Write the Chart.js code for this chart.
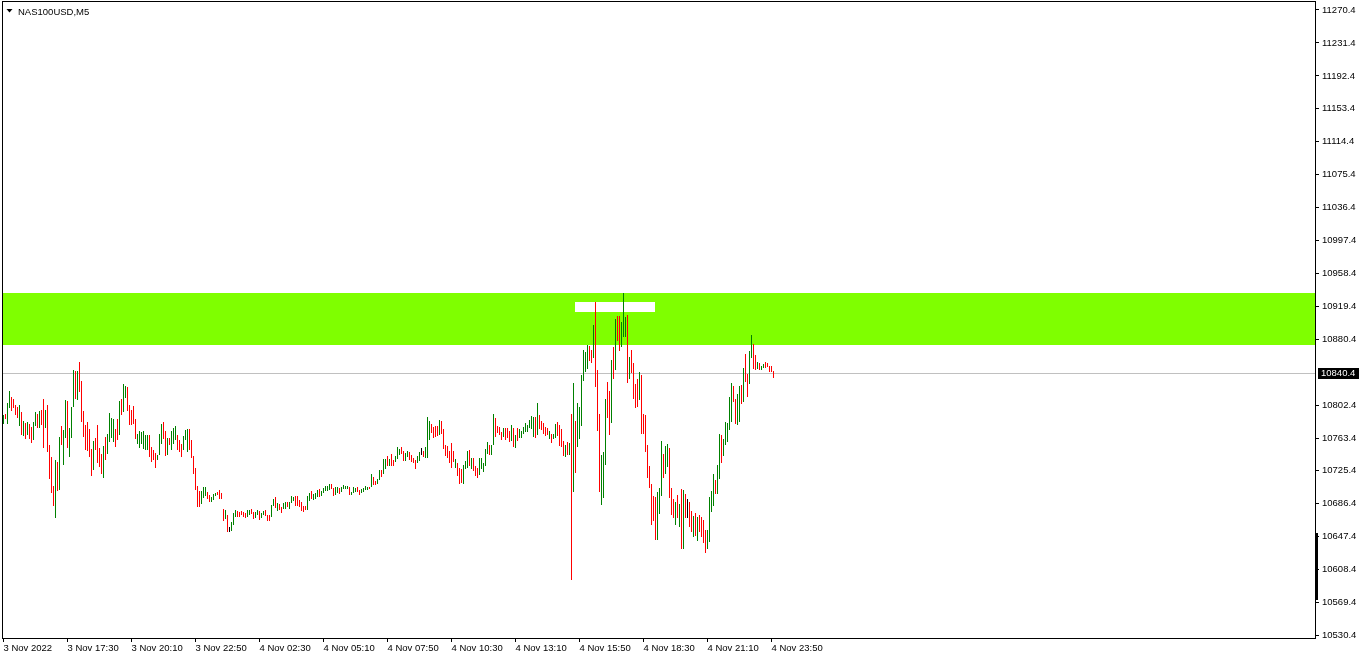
<!DOCTYPE html>
<html><head><meta charset="utf-8">
<script src="https://cdn.jsdelivr.net/npm/chart.js@4.4.0/dist/chart.umd.min.js"></script>
<style>html,body{margin:0;padding:0;background:#fff;}canvas{display:block;}</style>
</head><body>
<canvas id="c" width="1362" height="660"></canvas>
<script>
const symbolTitle = "NAS100USD,M5";
const tickLabels = ["3 Nov 2022","3 Nov 17:30","3 Nov 20:10","3 Nov 22:50","4 Nov 02:30","4 Nov 05:10","4 Nov 07:50","4 Nov 10:30","4 Nov 13:10","4 Nov 15:50","4 Nov 18:30","4 Nov 21:10","4 Nov 23:50"];
const barsPerTick = 32;
const priceTicks = [11270.4,11231.4,11192.4,11153.4,11114.4,11075.4,11036.4,10997.4,10958.4,10919.4,10880.4,10802.4,10763.4,10725.4,10686.4,10647.4,10608.4,10569.4,10530.4];
const currentPrice = 10840.4;
const zoneTop = 10935.3, zoneBottom = 10873.8;
const markTop = 10924.6, markBottom = 10912.8, markFromBar = 286, markToBar = 326;
const axisMarker = [10571.9, 10651.2];
const highs = [
10790.9,10792.1,10805.0,10819.3,10812.2,10809.8,10802.7,10800.3,10802.7,10794.4,
10783.8,10781.4,10782.6,10780.3,10776.7,10782.6,10794.4,10792.1,10795.6,10796.8,
10809.8,10796.8,10802.7,10755.4,10741.1,10706.8,10737.6,10735.2,10764.8,10777.9,
10773.1,10808.6,10807.4,10775.5,10800.3,10844.2,10843.0,10843.0,10853.6,10831.1,
10795.6,10779.1,10782.6,10774.3,10750.6,10760.1,10763.7,10779.1,10751.8,10744.7,
10754.2,10764.8,10768.4,10793.2,10787.4,10786.2,10774.3,10786.2,10807.4,10809.8,
10827.6,10825.2,10824.0,10802.7,10796.8,10801.5,10786.2,10768.4,10771.9,10770.7,
10771.9,10767.2,10767.2,10767.2,10753.0,10749.4,10745.9,10743.5,10768.4,10780.3,
10782.6,10771.9,10763.7,10763.7,10771.9,10775.5,10777.9,10767.2,10761.3,10756.6,
10766.0,10773.1,10774.3,10774.3,10761.3,10742.3,10728.1,10706.8,10700.9,10700.9,
10705.6,10705.6,10699.7,10696.1,10693.8,10697.3,10698.5,10699.7,10702.1,10698.5,
10679.5,10678.4,10672.5,10658.3,10664.2,10674.8,10678.4,10677.2,10676.0,10677.2,
10676.0,10674.8,10678.4,10678.4,10679.5,10676.0,10676.0,10678.4,10677.2,10674.8,
10677.2,10678.4,10672.5,10672.5,10684.3,10691.4,10693.8,10686.6,10685.5,10681.9,
10686.6,10687.8,10687.8,10687.8,10695.0,10693.8,10695.0,10695.0,10690.2,10687.8,
10683.1,10683.1,10695.0,10698.5,10700.9,10697.3,10698.5,10702.1,10703.3,10700.9,
10704.5,10706.8,10706.8,10709.2,10709.2,10704.5,10705.6,10705.6,10704.5,10705.6,
10708.0,10706.8,10706.8,10705.6,10699.7,10705.6,10704.5,10705.6,10702.1,10703.3,
10704.5,10706.8,10705.6,10705.6,10721.0,10717.5,10712.7,10715.1,10725.8,10725.8,
10738.8,10738.8,10742.3,10738.8,10744.7,10737.6,10742.3,10753.0,10750.6,10753.0,
10748.2,10745.9,10748.2,10747.0,10743.5,10739.9,10737.6,10742.3,10747.0,10751.8,
10748.2,10753.0,10788.5,10783.8,10780.3,10776.7,10777.9,10777.9,10785.0,10783.8,
10774.3,10755.4,10754.2,10748.2,10757.7,10748.2,10738.8,10734.0,10728.1,10727.0,
10731.7,10736.4,10748.2,10749.4,10739.9,10739.9,10730.5,10728.1,10739.9,10739.9,
10734.0,10750.6,10758.9,10755.4,10755.4,10792.1,10787.4,10777.9,10776.7,10770.7,
10775.5,10775.5,10775.5,10771.9,10779.1,10775.5,10767.2,10775.5,10774.3,10771.9,
10776.7,10781.4,10779.1,10785.0,10789.7,10788.5,10788.5,10805.0,10790.9,10783.8,
10781.4,10776.7,10775.5,10771.9,10768.4,10768.4,10780.3,10782.6,10779.1,10774.3,
10760.1,10755.4,10758.9,10757.7,10792.1,10828.7,10783.8,10805.0,10800.3,10838.2,
10867.8,10865.4,10873.8,10872.6,10867.8,10897.5,10924.6,10844.2,10792.1,10743.5,
10747.0,10809.8,10829.9,10819.3,10856.0,10871.4,10904.6,10908.1,10908.1,10901.0,
10935.3,10906.9,10909.3,10859.5,10867.8,10852.4,10827.6,10833.5,10841.8,10838.2,
10792.1,10790.9,10755.4,10730.5,10709.2,10695.0,10693.8,10699.7,10704.5,10760.1,
10744.7,10754.2,10756.6,10751.8,10704.5,10691.4,10687.8,10696.1,10685.5,10703.3,
10702.1,10697.3,10691.4,10687.8,10677.2,10671.3,10674.8,10670.1,10672.5,10670.1,
10666.6,10654.7,10654.7,10693.8,10700.9,10721.0,10713.9,10731.7,10768.4,10767.2,
10762.5,10782.6,10781.4,10812.2,10828.7,10825.2,10809.8,10815.7,10825.2,10826.4,
10846.5,10863.1,10839.4,10866.6,10885.6,10874.9,10861.9,10853.6,10852.4,10848.9,
10851.3,10853.6,10852.4,10848.9,10848.9,10843.0];
const lows = [
10780.3,10786.2,10780.3,10799.1,10795.6,10799.1,10790.9,10787.4,10777.9,10767.2,
10766.0,10762.5,10767.2,10762.5,10757.7,10761.3,10777.9,10775.5,10775.5,10779.1,
10751.8,10775.5,10747.0,10715.1,10698.6,10683.1,10668.9,10700.9,10702.1,10755.4,
10731.7,10763.7,10751.8,10741.1,10763.7,10800.3,10809.8,10808.6,10818.1,10782.6,
10764.8,10749.4,10748.2,10741.1,10718.7,10725.8,10749.4,10734.0,10729.3,10721.0,
10716.3,10737.6,10744.7,10758.9,10763.7,10758.9,10753.0,10761.3,10767.2,10790.9,
10794.4,10811.0,10795.6,10779.1,10779.1,10780.3,10762.5,10756.6,10751.8,10756.6,
10750.6,10749.4,10749.4,10741.1,10735.2,10737.6,10728.1,10737.6,10743.5,10756.6,
10762.5,10742.3,10743.5,10755.4,10749.4,10756.6,10761.3,10749.4,10747.0,10741.1,
10749.4,10761.3,10747.0,10749.4,10739.9,10721.0,10702.1,10681.9,10681.9,10685.5,
10692.6,10695.0,10691.4,10687.9,10687.9,10690.2,10695.0,10696.1,10691.4,10691.4,
10665.4,10667.8,10652.3,10652.3,10653.5,10660.7,10670.1,10670.1,10670.1,10672.5,
10670.1,10668.9,10670.1,10672.5,10673.7,10667.8,10668.9,10672.5,10666.6,10668.9,
10672.5,10671.3,10665.4,10665.4,10670.1,10683.1,10680.7,10677.2,10678.4,10674.8,
10679.5,10679.5,10681.9,10679.5,10686.6,10689.0,10683.1,10683.1,10681.9,10677.2,
10676.0,10678.4,10678.4,10689.0,10691.4,10690.2,10691.4,10693.8,10693.8,10695.0,
10698.5,10700.9,10700.9,10702.1,10703.3,10695.0,10696.1,10698.5,10697.3,10699.7,
10703.3,10703.3,10703.3,10696.1,10696.1,10698.5,10699.7,10699.7,10696.1,10698.5,
10699.7,10702.1,10702.1,10703.3,10705.6,10708.0,10708.0,10709.2,10713.9,10717.5,
10721.0,10727.0,10730.5,10730.5,10730.5,10730.5,10735.2,10738.8,10743.5,10744.7,
10736.4,10736.4,10741.1,10737.6,10735.2,10734.0,10727.0,10734.0,10736.4,10743.5,
10741.1,10739.9,10739.9,10761.3,10769.6,10763.7,10764.8,10766.0,10767.2,10768.4,
10750.6,10742.3,10739.9,10734.0,10728.1,10735.2,10728.1,10718.7,10709.2,10710.4,
10709.2,10727.0,10728.1,10730.5,10727.0,10724.6,10718.7,10716.3,10719.8,10727.0,
10723.4,10730.5,10744.7,10743.5,10743.5,10755.4,10764.8,10769.6,10767.2,10761.3,
10764.8,10761.3,10763.7,10758.9,10760.1,10753.0,10751.8,10760.1,10763.7,10763.7,
10768.4,10770.7,10770.7,10775.5,10774.3,10764.8,10763.7,10767.2,10774.3,10773.1,
10768.4,10766.0,10767.2,10762.5,10757.7,10762.5,10763.7,10766.0,10754.2,10753.0,
10742.3,10741.1,10743.5,10743.5,10595.5,10699.7,10722.2,10753.0,10762.5,10777.9,
10831.1,10841.8,10845.4,10854.8,10852.4,10858.3,10824.0,10771.9,10699.7,10684.3,
10692.6,10731.7,10787.4,10767.2,10781.4,10833.5,10844.2,10878.5,10866.6,10871.4,
10883.2,10883.2,10828.7,10833.5,10840.6,10809.8,10799.1,10800.3,10808.6,10768.4,
10768.4,10747.0,10716.3,10704.5,10660.7,10665.4,10642.9,10642.9,10673.7,10695.0,
10716.3,10721.0,10729.3,10692.6,10672.5,10668.9,10660.7,10668.9,10658.3,10632.2,
10632.2,10668.9,10668.9,10658.3,10652.3,10646.4,10647.6,10641.7,10652.3,10646.4,
10639.3,10627.4,10632.2,10640.5,10676.0,10683.1,10697.3,10697.3,10715.1,10734.0,
10742.3,10755.4,10758.9,10773.1,10782.6,10806.2,10780.3,10779.1,10782.6,10803.9,
10806.2,10829.9,10812.2,10827.6,10858.3,10845.4,10844.2,10845.4,10844.2,10844.2,
10846.5,10846.5,10847.7,10841.8,10841.8,10834.7];
// G = bull bar, R = bear bar, N = unchanged
const directions = (
"GRGGRRRRGR"+"GRGRRGGRGR"+"RGRRRRGRGR"+"GGRGGGRGRR"+"RRRRRGRRRR"+
"GRGGGGRRGR"+"GGRRRRRGGG"+"GGGRRRRGGG"+"RRGRGGGRRR"+"GGGRRRRRRG"+
"GGRRGGGRRR"+"RGRNGGGRRR"+"RRGGRRGGRG"+"GRRRGGRGRR"+"GGRGGGRRRR"+
"RRGGRGGGRG"+"GGGGRRGGRG"+"GGGRGGGRRG"+"GGGRGRRGGR"+"GGRGRRGGGR"+
"RGGRRRRGGN"+"RGGGRRRRGR"+"RRRRRRGRRR"+"GGGRGRRRGG"+"GGGRGGRRRR"+
"GRRRGRGRGG"+"GGGGGGRGRR"+"RRRGRGGRRR"+"RGRGRGRGGG"+"GGGRRGRRRG"+
"GGRRGRGRRG"+"GGRGRRRRGR"+"RRRRRRRGGG"+"RGGRRRGRGR"+"GRNRRGRGRR"+
"RRGGGGRGGR"+"GGGGGRRGGR"+"GRRGGRRGRG"+"GRRRRR").split('');

const FONT = "'Liberation Sans', Arial, sans-serif";
const FS = 9.5;
const CHART_LEFT = 3, CHART_TOP = 2, AXIS_W = 47, AXIS_H = 22;
const slotsAcross = 656;
const yMax = 11279.87, yMin = 10526.85;
const colorFor = d => d === 'G' ? '#008000' : (d === 'R' ? '#ff0000' : '#000000');

const points = highs.map((h, i) => ({x: i, y: [lows[i], h]}));

const bgPlugin = {
  id: 'bg',
  beforeDatasetsDraw(chart) {
    const {ctx, chartArea: a, scales: {x, y}} = chart;
    ctx.save();
    const zt = y.getPixelForValue(zoneTop), zb = y.getPixelForValue(zoneBottom);
    ctx.fillStyle = '#7fff00';
    ctx.fillRect(a.left, Math.round(zt), a.right - a.left, Math.round(zb) - Math.round(zt));
    const mt = y.getPixelForValue(markTop), mb = y.getPixelForValue(markBottom);
    const mx1 = x.getPixelForValue(markFromBar) - 0.5, mx2 = x.getPixelForValue(markToBar) - 0.5;
    ctx.fillStyle = '#ffffff';
    ctx.fillRect(Math.round(mx1), Math.round(mt), Math.round(mx2 - mx1), Math.round(mb) - Math.round(mt));
    const py = Math.round(y.getPixelForValue(currentPrice)) + 0.5;
    ctx.strokeStyle = '#c0c0c0'; ctx.lineWidth = 1;
    ctx.beginPath(); ctx.moveTo(a.left, py); ctx.lineTo(a.right, py); ctx.stroke();
    ctx.restore();
  }
};
const fgPlugin = {
  id: 'fg',
  afterDraw(chart) {
    const {ctx, chartArea: a, scales: {y}} = chart;
    ctx.save();
    ctx.strokeStyle = '#000'; ctx.lineWidth = 1;
    ctx.strokeRect(a.left - 0.5, a.top - 0.5, a.right - a.left + 0.5 + 0.5, a.bottom - a.top + 0.5 + 0.5);
    // title
    ctx.fillStyle = '#000';
    ctx.beginPath(); ctx.moveTo(6.5, 9); ctx.lineTo(12.5, 9); ctx.lineTo(9.5, 12.5); ctx.closePath(); ctx.fill();
    ctx.font = FS + 'px ' + FONT; ctx.textBaseline = 'alphabetic'; ctx.textAlign = 'left';
    ctx.fillText(symbolTitle, 18, 14.5);
    // current price tag
    const py = Math.round(y.getPixelForValue(currentPrice));
    ctx.fillStyle = '#000';
    ctx.fillRect(a.right + 3, py - 5, 41, 11);
    ctx.fillStyle = '#fff'; ctx.textBaseline = 'middle';
    ctx.fillText(currentPrice.toFixed(1), a.right + 6, py + 0.5);
    // scale marker
    const m1 = y.getPixelForValue(axisMarker[1]), m2 = y.getPixelForValue(axisMarker[0]);
    ctx.fillStyle = '#000';
    ctx.fillRect(a.right, Math.round(m1), 3, Math.round(m2 - m1));
    ctx.restore();
  }
};

new Chart(document.getElementById('c').getContext('2d'), {
  type: 'bar',
  data: {datasets: [{
    data: points,
    backgroundColor: directions.map(colorFor),
    borderWidth: 0, barThickness: 1, grouped: false, inflateAmount: 0
  }]},
  options: {
    responsive: false, animation: false, devicePixelRatio: 1,
    layout: {padding: {left: CHART_LEFT, top: CHART_TOP, right: 0, bottom: 0}},
    plugins: {legend: {display: false}, tooltip: {enabled: false}},
    scales: {
      x: {
        type: 'linear', min: -0.25, max: slotsAcross - 0.25, offset: false,
        border: {display: false},
        grid: {drawOnChartArea: false, drawTicks: true, tickLength: 4, color: '#000', offset: false},
        afterBuildTicks: s => { s.ticks = tickLabels.map((t, k) => ({value: k * barsPerTick})); },
        afterFit: s => { s.height = AXIS_H; s.paddingLeft = 0; s.paddingRight = 0; },
        ticks: {autoSkip: false, maxRotation: 0, minRotation: 0, align: 'start', padding: 1,
          color: '#000', font: {family: FONT, size: FS},
          callback: (v, k) => tickLabels[k]}
      },
      y: {
        type: 'linear', position: 'right', min: yMin, max: yMax,
        border: {display: false},
        grid: {drawOnChartArea: false, drawTicks: true, tickLength: 4, color: '#000'},
        afterBuildTicks: s => { s.ticks = priceTicks.map(v => ({value: v})); },
        afterFit: s => { s.width = AXIS_W; s.paddingTop = 0; s.paddingBottom = 0; },
        ticks: {autoSkip: false, padding: 3, color: '#000', font: {family: FONT, size: FS},
          callback: v => Number(v).toFixed(1)}
      }
    }
  },
  plugins: [bgPlugin, fgPlugin]
});
</script>
</body></html>
